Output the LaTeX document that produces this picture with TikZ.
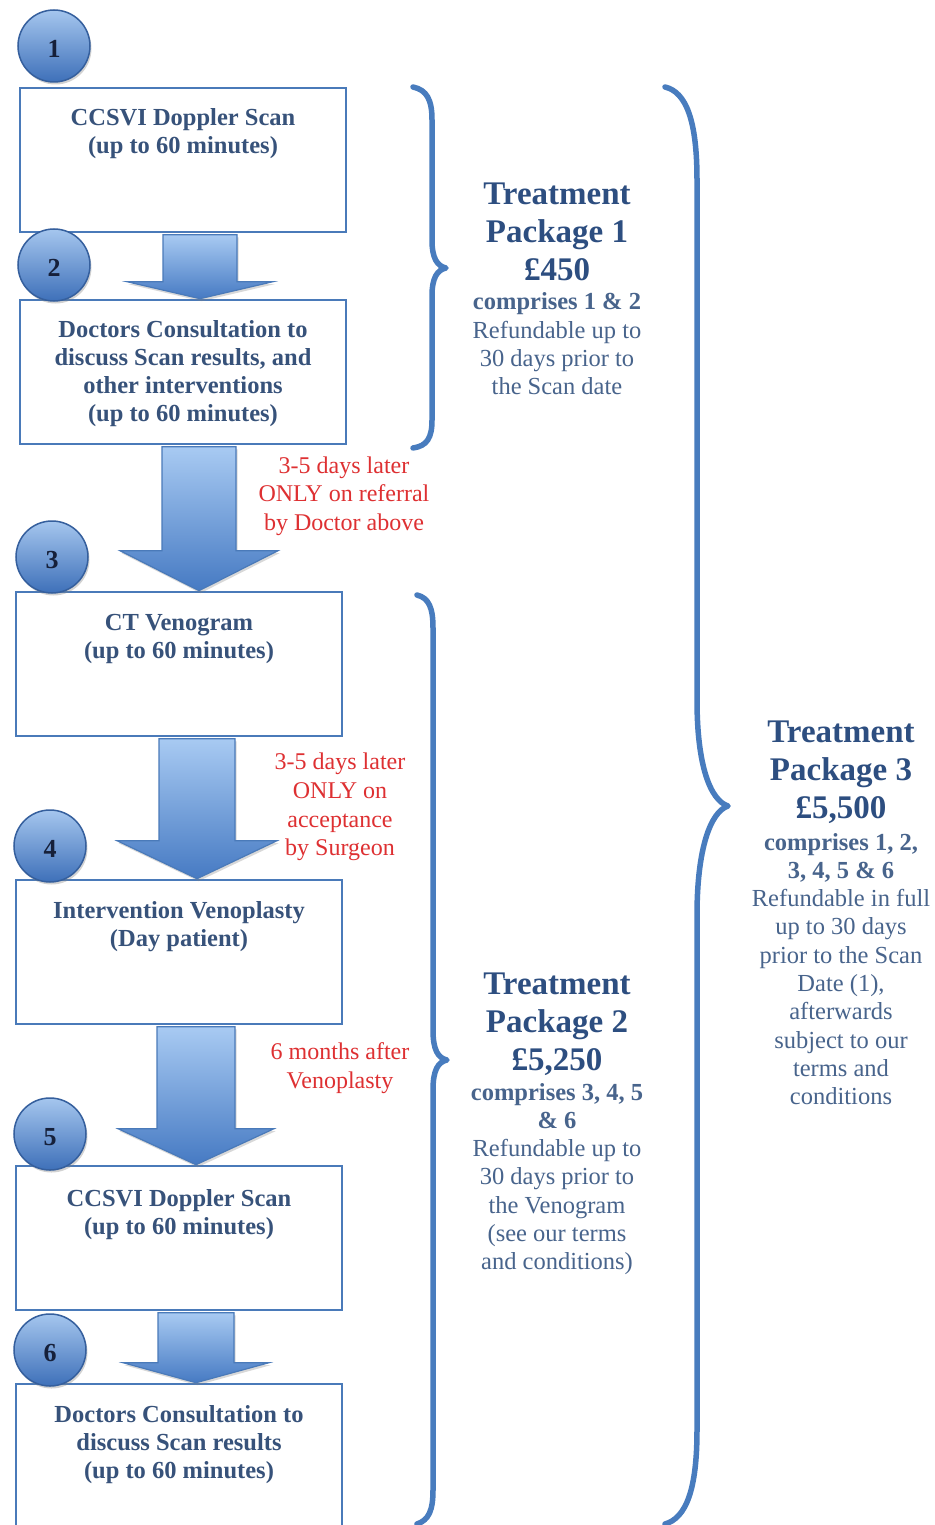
\documentclass[tikz,border=0pt]{standalone}
\usepackage{fontspec}
\setmainfont{Liberation Serif}
\usetikzlibrary{calc,shadows}
\definecolor{boxblue}{RGB}{74,122,185}
\definecolor{braceblue}{RGB}{72,124,190}
\definecolor{boxtext}{RGB}{55,82,122}
\definecolor{titletext}{RGB}{45,78,128}
\definecolor{bodytext}{RGB}{72,100,140}
\definecolor{redtext}{RGB}{222,48,50}
\definecolor{numtext}{RGB}{22,32,58}
\definecolor{arrtop}{RGB}{168,202,242}
\definecolor{arrbot}{RGB}{70,122,195}
\definecolor{circtop}{RGB}{165,198,238}
\definecolor{circbot}{RGB}{62,112,185}
\tikzset{
  stepbox/.style={draw=boxblue, line width=2.6pt, fill=white, minimum width=326pt, minimum height=144pt, inner sep=0pt},
  boxlabel/.style={align=center, text=boxtext, font=\fontsize{24.5}{28}\selectfont\bfseries},
  redlabel/.style={align=center, text=redtext, font=\fontsize{24}{28.6}\selectfont},
  numcirc/.style={circle, draw=circbot!85!black, line width=1.5pt, top color=circtop, bottom color=circbot, minimum size=72pt, inner sep=0pt, text height=23pt, text depth=0pt, text=numtext, font=\fontsize{26}{28}\selectfont\bfseries, drop shadow={opacity=0.35, shadow xshift=1.5pt, shadow yshift=-2.5pt}},
  barrow/.style={draw=boxblue, line width=1.2pt, top color=arrtop, bottom color=arrbot, line join=miter, drop shadow={opacity=0.3, shadow xshift=1.5pt, shadow yshift=-2.5pt}},
  bracepath/.style={draw=braceblue, line width=5.5pt, line cap=round, line join=round},
  pkgtitle/.style={align=center, text=titletext, font=\fontsize{33}{38}\selectfont\bfseries},
  pkgbody/.style={align=center, text=bodytext, font=\fontsize{24.5}{28.3}\selectfont},
}
% #1 from node, #2 to node, #3 centre x, #4 shaft half width, #5 head half width, #6 head length
\newcommand\myblockarrow[6]{%
  \path[barrow] let \p1=(#1.south), \p2=(#2.north) in
    (#3pt-#4pt,\y1-1.5pt) -- (#3pt+#4pt,\y1-1.5pt) -- (#3pt+#4pt,\y2+#6pt) -- (#3pt+#5pt,\y2+#6pt)
    -- (#3pt,\y2) -- (#3pt-#5pt,\y2+#6pt) -- (#3pt-#4pt,\y2+#6pt) -- cycle;}
\begin{document}
\begin{tikzpicture}[x=1pt,y=1pt]
\clip (0,0) rectangle (934,-1525);
\fill[white] (0,0) rectangle (934,-1525);

% boxes
\node[stepbox] (b1) at (183,-160) {};
\node[stepbox] (b2) at (183,-372) {};
\node[stepbox] (b3) at (179,-664) {};
\node[stepbox] (b4) at (179,-952) {};
\node[stepbox] (b5) at (179,-1238) {};
\node[stepbox, minimum height=160pt] (b6) at (179,-1464) {};

% box texts
\node[boxlabel] (t1) at (183,-134) {CCSVI Doppler Scan\\(up to 60 minutes)};
\node[boxlabel] (t2) at (183,-374) {Doctors Consultation to\\discuss Scan results, and\\other interventions\\(up to 60 minutes)};
\node[boxlabel] (t3) at (179,-639) {CT Venogram\\(up to 60 minutes)};
\node[boxlabel] (t4) at (179,-927) {Intervention Venoplasty\\(Day patient)};
\node[boxlabel] (t5) at (179,-1215) {CCSVI Doppler Scan\\(up to 60 minutes)};
\node[boxlabel] (t6) at (179,-1445) {Doctors Consultation to\\discuss Scan results\\(up to 60 minutes)};

% block arrows
\myblockarrow{b1}{b2}{200}{37}{73}{17}
\myblockarrow{b2}{b3}{199}{37}{79}{40}
\myblockarrow{b3}{b4}{197}{38}{80}{38}
\myblockarrow{b4}{b5}{196}{39}{78}{36}
\myblockarrow{b5}{b6}{196}{38}{73}{20}

% red notes
\node[redlabel] (r1) at (344,-496) {3-5 days later\\ONLY on referral\\by Doctor above};
\node[redlabel] (r2) at (340,-807) {3-5 days later\\ONLY on\\acceptance\\by Surgeon};
\node[redlabel] (r3) at (340,-1068) {6 months after\\Venoplasty};

% number circles
\node[numcirc] (c1) at (54,-46) {1};
\node[numcirc] (c2) at (54,-265) {2};
\node[numcirc] (c3) at (52,-557) {3};
\node[numcirc] (c4) at (50,-846) {4};
\node[numcirc] (c5) at (50,-1134) {5};
\node[numcirc] (c6) at (50,-1350) {6};

% braces
\path[bracepath] (413,-87) .. controls (427,-90) and (432,-100) .. (432,-120) -- (432,-240)
  .. controls (432,-258) and (437,-266) .. (446,-268)
  .. controls (437,-270) and (432,-278) .. (432,-296) -- (432,-420)
  .. controls (432,-438) and (427,-446) .. (413,-448);
\path[bracepath] (417,-595) .. controls (429,-598) and (433,-608) .. (433,-628) -- (433,-1030)
  .. controls (433,-1050) and (438,-1058) .. (447,-1060)
  .. controls (438,-1062) and (433,-1070) .. (433,-1090) -- (433,-1490)
  .. controls (433,-1510) and (429,-1520) .. (417,-1524);
\path[bracepath] (665,-87) .. controls (686,-92) and (697,-120) .. (697,-180) -- (697,-700)
  .. controls (697,-765) and (710,-800) .. (728,-806)
  .. controls (710,-812) and (697,-850) .. (697,-915) -- (697,-1430)
  .. controls (697,-1490) and (686,-1518) .. (665,-1524);

% package texts
\node[pkgtitle] (p1t) at (557,-232) {Treatment\\Package 1\\\pounds450};
\node[pkgbody] (p1b) at (557,-344) {\textbf{comprises 1 \& 2}\\Refundable up to\\30 days prior to\\the Scan date};
\node[pkgtitle] (p2t) at (557,-1024) {Treatment\\Package 2\\\pounds5,250};
\node[pkgbody] (p2b) at (557,-1179) {\textbf{comprises 3, 4, 5}\\\textbf{\& 6}\\Refundable up to\\30 days prior to\\the Venogram\\(see our terms\\and conditions)};
\node[pkgtitle] (p3t) at (841,-772) {Treatment\\Package 3\\\pounds5,500};
\node[pkgbody] (p3b) at (841,-969) {\textbf{comprises 1, 2,}\\\textbf{3, 4, 5 \& 6}\\Refundable in full\\up to 30 days\\prior to the Scan\\Date (1),\\afterwards\\subject to our\\terms and\\conditions};
\end{tikzpicture}
\end{document}
